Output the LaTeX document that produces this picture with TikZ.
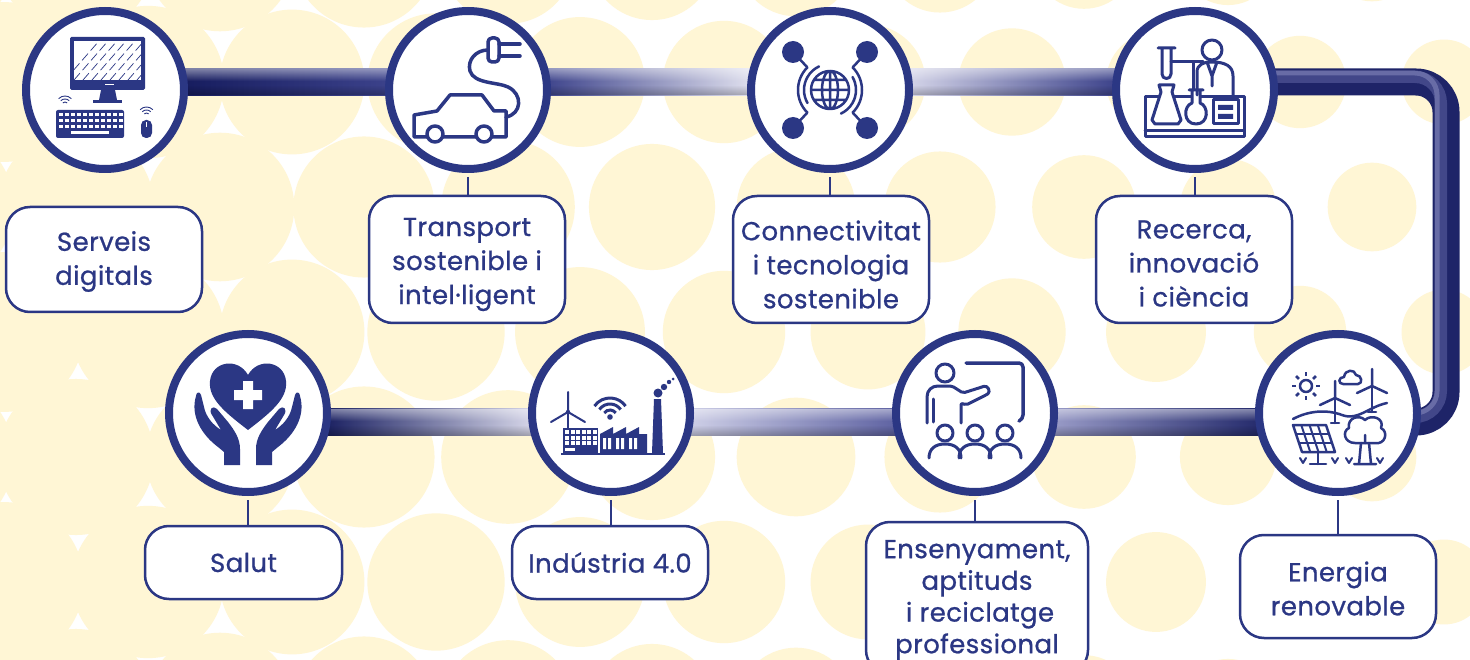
\documentclass[tikz,border=0pt]{standalone}
\usepackage{fontspec}
\setmainfont{Poppins}
\newfontfamily\tagfont{Poppins}[FakeBold=0.8, LetterSpace=1.5]
\usetikzlibrary{fadings,calc}
\definecolor{navy}{HTML}{2B3784}
\definecolor{cream}{HTML}{FFF6D5}
\definecolor{pipedark}{HTML}{1E2468}
\definecolor{pipemid}{HTML}{5A5F9F}
\definecolor{pipelight}{HTML}{8E91C4}
\begin{document}
\begin{tikzpicture}[x=1pt, y=-1pt,
    ring/.style={circle, draw=navy, line width=8pt, fill=white, minimum size=158pt, inner sep=0pt},
    tag/.style={draw=navy, line width=2.5pt, fill=white, rounded corners=24pt, inner sep=0pt, minimum width=196pt},
    words/.style={align=center, text=navy, inner sep=0pt, font=\tagfont\fontsize{26pt}{34pt}\selectfont},
    link/.style={draw=navy, line width=2.5pt},
    ico/.style={draw=navy, line width=3.5pt, line join=round, line cap=round}]
\useasboundingbox (0,0) rectangle (1470,660);
% dotted background
\begin{scope}
  \clip (0,0) rectangle (1470,660);
  \fill[white] (0,0) rectangle (1470,660);
  \foreach \r in {0,...,6}
    \foreach \c in {-1,...,11}{
      \pgfmathsetmacro{\cx}{4+144*\c+72*mod(\r+1,2)}
      \pgfmathsetmacro{\cy}{-43+125*\r}
      \pgfmathsetmacro{\rr}{80-0.026*\cx}
      \fill[cream] (\cx,\cy) circle (\rr);
    }
\end{scope}
% pipe
\draw[pipedark, line width=27pt, rounded corners=30pt] (1270,82) -- (1446,82) -- (1446,422) -- (1330,422);
\draw[pipemid, opacity=.6, line width=12pt, rounded corners=26pt] (1270,77) -- (1441,77) -- (1441,417) -- (1330,417);
\draw[pipelight, opacity=.5, line width=5pt, rounded corners=22pt] (1270,73) -- (1437,73) -- (1437,413) -- (1330,413);
\foreach \xa/\xb/\yy/\ca/\cm/\cb in {
    180/395/82/161C5E/272D75/3D438C,
    540/760/82/3A4089/5A5F9F/E6E6F2,
    900/1120/82/DADAEC/5C61A0/3A4089,
    1050/1265/422/9A9CC8/4A4F92/22286A,
    685/900/422/D0D1E8/E8E8F3/5D61A1,
    320/535/422/161C5E/3D438C/D8D8EA}{
  \definecolor{pa}{HTML}{\ca}
  \definecolor{pm}{HTML}{\cm}
  \definecolor{pb}{HTML}{\cb}
  \shade[left color=pa, middle color=pm, right color=pb] (\xa,\yy-13.5) rectangle (\xb,\yy+13.5);
  \fill[white, path fading=south, fill opacity=.45] (\xa,\yy-13.5) rectangle (\xb,\yy-1);
  \fill[black, path fading=north, fill opacity=.25] (\xa,\yy+3) rectangle (\xb,\yy+13.5);
}
% rings
\foreach \i/\x/\y in {1/105/90, 2/468/90, 3/830/90, 4/1195/90, 5/248/413, 6/611/413, 7/975/413, 8/1338/413}
  \node[ring] (n\i) at (\x,\y) {};
% labels
\foreach \i/\x/\y/\w/\h/\dy/\txt in {
    1/104/259.5/196/105/-2/{Serveis\\digitals},
    2/467/259.5/196/127/-5/{Transport\\sostenible i\\intel·ligent},
    3/831/259.5/196/127/-5/{Connectivitat\\i tecnologia\\sostenible},
    4/1194/259.5/196/127/-4/{Recerca,\\innovació\\i ciència},
    5/243.5/562.5/197/73/0/{Salut},
    6/610/562.5/196/73/0/{Indústria 4.0},
    8/1338/586.5/196/103/-2/{Energia\\renovable}}{
  \node[tag, minimum width=\w, minimum height=\h] (t\i) at (\x,\y) {};
  \node[words] (w\i) at ([yshift=\dy]t\i.center) {\txt};
}
\node[tag, minimum width=222pt, minimum height=152pt] (t7) at (977,598) {};
\node[words, font=\tagfont\fontsize{26pt}{31.7pt}\selectfont] (w7) at ([yshift=-2pt]t7.center)
  {Ensenyament,\\aptituds\\\hspace*{6pt}i reciclatge\\professional};
\foreach \i in {2,...,8}
  \draw[link] (n\i.south) ++(0,4) -- (n\i.south |- t\i.north);
% computer
\begin{scope}[shift={(n1)}]
  \fill[navy, rounded corners=1.5pt] (-35,-53) rectangle (40,0);
  \fill[white] (-31,-49) rectangle (36,-10);
  \begin{scope}
    \clip (-31,-49) rectangle (36,-10);
    \foreach \k in {-40,-31,...,50}
      \draw[navy, line width=.7pt, dash pattern=on 9pt off 4pt] (\k,-10) -- (\k+34,-49);
  \end{scope}
  \fill[white] (0,-6) rectangle (9,-4.5);
  \fill[navy] (-4,0) -- (10,0) -- (12,10) -- (-6,10) -- cycle;
  \fill[navy] (-12,10) rectangle (17,13);
  \fill[navy, rounded corners=2pt] (-49,20) rectangle (19,48);
  \foreach \i in {0,...,10}
    \foreach \j in {0,1,2}
      \fill[white] (-46+\i*6,23+\j*6) rectangle ++(3.5,3);
  \fill[white] (-34,41) rectangle (4,44.5);
  \fill[navy, rounded corners=5pt] (36,30) rectangle (47,48);
  \draw[white, line width=1pt] (41.5,32) -- (41.5,37);
  \foreach \w in {3,6,9}{
    \draw[navy, line width=.9pt] (-40,15) ++(225:\w) arc (225:315:\w);
    \draw[navy, line width=.9pt] (41.5,26) ++(225:\w) arc (225:315:\w);
  }
\end{scope}
% car and plug
\begin{scope}[shift={(n2)}]
  \draw[ico] (-54,47) -- (-54,25) -- (-31,21) -- (-18,5) -- (14,5) -- (26,21) -- (38,21) -- (38,47) -- cycle;
  \draw[ico, fill=white] (-33,44) circle (8) (16,44) circle (8);
  \draw[ico] (38,27) .. controls (54,24) and (55,4) .. (40,-3) .. controls (30,-8) and (6,-6) .. (2,-19)
    .. controls (-1,-30) and (8,-40) .. (20,-40);
  \draw[ico, rounded corners=4pt] (31,-52) -- (20,-52) -- (20,-28) -- (31,-28) -- cycle;
  \draw[ico] (31,-46) -- (52,-46) (31,-34) -- (52,-34);
\end{scope}
% network globe
\begin{scope}[shift={(n3)}]
  \foreach \sx in {-1,1}
    \foreach \sy in {-1,1}{
      \fill[navy] (\sx*37,\sy*38) circle (11);
      \draw[ico, line width=2.5pt] (\sx*37,\sy*38) -- (\sx*23,\sy*23);
    }
  \draw[ico, line width=2.5pt] (135:32) arc (135:225:32) (-45:32) arc (-45:45:32);
  \draw[ico, line width=2.5pt] (150:26) arc (150:245:26) (-30:26) arc (-30:65:26);
  \draw[ico, line width=2.5pt] (0,0) circle (19) (0,0) ellipse (8 and 19) (0,-19) -- (0,19)
    (-19,0) -- (19,0) (-16,-10) -- (16,-10) (-16,10) -- (16,10);
\end{scope}
% lab
\begin{scope}[shift={(n4)}]
  \draw[ico, line width=3pt] (-50,7) rectangle (49,47) (-50,41) -- (49,41);
  \draw[ico, line width=3pt] (-33,-42) -- (-33,-16) .. controls (-33,-10) and (-24,-10) .. (-24,-16) -- (-24,-42)
    (-37,-42) -- (-20,-42);
  \draw[ico, line width=3pt] (-24,-28) -- (8,-28) (-2,-28) -- (-2,0);
  \draw[ico, line width=3pt, fill=white] (-36,-5) -- (-21,-5) -- (-23,2) -- (-14,30) -- (-17,34) -- (-40,34)
    -- (-43,30) -- (-34,2) -- cycle;
  \draw[ico, line width=3pt, fill=white] (-3,0) -- (-3,13) .. controls (-12,16) and (-12,34) .. (1,34)
    .. controls (14,34) and (14,16) .. (5,13) -- (5,0) (-6,0) -- (8,0);
  \draw[ico, line width=3pt] (18,10) rectangle (43,34);
  \fill[navy] (23,15) rectangle (38,20) (23,24) rectangle (38,29);
  \draw[ico, line width=3pt] (17,-40) circle (10);
  \draw[ico, line width=3pt] (2,5) -- (2,-18) .. controls (2,-25) and (8,-28) .. (17,-28)
    .. controls (30,-28) and (38,-24) .. (38,-14) -- (38,5) (12,-28) -- (17,-14) -- (22,-28) (17,-14) -- (17,-4);
\end{scope}
% heart in hands
\begin{scope}[shift={(n5)}]
  \fill[navy] (0,17) .. controls (-22,0) and (-40,-14) .. (-38,-32) .. controls (-36,-52) and (-10,-56) .. (0,-38)
    .. controls (10,-56) and (36,-52) .. (38,-32) .. controls (40,-14) and (22,0) .. (0,17) -- cycle;
  \fill[white] (-5,-32) rectangle (5,-4) (-14,-23) rectangle (14,-13);
  \foreach \s in {1,-1}
    \fill[navy, xscale=\s] (-52,-17) .. controls (-58,3) and (-46,22) .. (-30,34) -- (-24,39) -- (-24,52)
      -- (-8,52) -- (-8,36) .. controls (-8,26) and (-13,18) .. (-20,9) -- (-31,-4)
      .. controls (-35,-8) and (-40,-4) .. (-36,2) -- (-27,17) .. controls (-35,12) and (-42,4) .. (-44,-6)
      -- (-47,-18) .. controls (-48,-22) and (-52,-21) .. (-52,-17) -- cycle;
\end{scope}
% factory
\begin{scope}[shift={(n6)}]
  \draw[navy, line width=1.5pt] (-43,-1) -- (-43,15);
  \draw[navy, line width=2pt, line cap=round] (-43,-1) -- (-43,-21) (-43,-1) -- (-60,9) (-43,-1) -- (-26,9);
  \fill[navy] (-43,-1) circle (2.2);
  \fill[navy] (-48,15) rectangle (-13,40);
  \foreach \i in {0,...,5}
    \foreach \j in {0,1,2}
      \fill[white] (-46+\i*5.5,17+\j*5.5) rectangle ++(4,4);
  \fill[white] (-46,35) rectangle (-36,38);
  \fill[navy] (-11,40) -- (-11,21) -- (2,14) -- (2,21) -- (15,14) -- (15,21) -- (28,14) -- (28,21) -- (36,21)
    -- (36,40) -- cycle;
  \foreach \wx in {-8,5,18}
    \fill[white] (\wx,25) rectangle ++(3,11) (\wx+5,25) rectangle ++(3,11);
  \fill[navy] (41,40) -- (43,-14) -- (50,-14) -- (52,40) -- cycle;
  \fill[navy] (47,-20) circle (4.5) (53,-26) circle (3.2) (58,-31) circle (2.2) (62,-34) circle (1.5);
  \draw[navy, line width=2pt] (-50,41) -- (54,41);
  \fill[navy] (-1,4) circle (2.8);
  \foreach \w in {7,13,19}
    \draw[navy, line width=3pt] (-1,4) ++(215:\w) arc (215:325:\w);
\end{scope}
% teacher
\begin{scope}[shift={(n7)}]
  \draw[ico, rounded corners=4pt] (-9,-50) -- (48,-50) -- (48,6) -- (44,8);
  \draw[ico, line width=3pt] (-30,-40) circle (9);
  \draw[ico, line width=3pt, rounded corners=2pt] (-48,10) -- (-48,-14) .. controls (-48,-23) and (-43,-27) .. (-35,-27)
    -- (-23,-27) -- (-12,-20) -- (7,-26) .. controls (13,-28) and (16,-21) .. (11,-18) -- (-9,-8) -- (-14,-10) -- (-14,10);
  \draw[ico, line width=3pt] (-42,-14) -- (-42,9);
  \foreach \p in {-30,0,30}{
    \draw[ico, line width=3pt] (\p,20) circle (8);
    \draw[ico, line width=3pt] (\p-16,45) .. controls (\p-16,36) and (\p-10,31) .. (\p,31)
      .. controls (\p+10,31) and (\p+16,36) .. (\p+16,45);
  }
\end{scope}
% renewable energy
\begin{scope}[shift={(n8)}]
  \draw[ico, line width=2.5pt] (-32,-27) circle (6);
  \foreach \a in {0,45,...,315}
    \draw[navy, line width=2.5pt] (-32,-27) ++(\a:10) -- ++(\a:4);
  \draw[ico, line width=2.5pt] (5,-29) .. controls (0,-29) and (0,-36) .. (6,-36) .. controls (7,-44) and (17,-44) .. (18,-38)
    .. controls (24,-38) and (25,-29) .. (20,-29) -- cycle;
  \draw[ico, line width=2.5pt] (-45,6) .. controls (-30,-2) and (-12,-4) .. (4,2) .. controls (20,8) and (30,-6) .. (49,-10);
  \foreach \hx/\hy/\hb in {-3/-15/10, 34/-27/-1}{
    \draw[ico, line width=2.5pt] (\hx,\hy) -- (\hx,\hb) (\hx-4,\hb) -- (\hx+4,\hb);
    \draw[ico, line width=2.5pt] (\hx,\hy) -- ++(0,-17) (\hx,\hy) -- ++(-15,7) (\hx,\hy) -- ++(15,7);
  }
  \draw[navy, line width=2.5pt, line join=round, fill=white] (-45,12) -- (-12,12) -- (-3,39) -- (-36,39) -- cycle;
  \foreach \t in {.25,.5,.75}
    \draw[navy, line width=2pt] ($(-45,12)!\t!(-12,12)$) -- ($(-36,39)!\t!(-3,39)$);
  \foreach \t in {.33,.66}
    \draw[navy, line width=2pt] ($(-45,12)!\t!(-36,39)$) -- ($(-12,12)!\t!(-3,39)$);
  \draw[ico, line width=2.5pt] (-20,39) -- (-20,51) (-28,51) -- (-12,51);
  \draw[ico, line width=2.5pt, fill=white] (17,30) .. controls (6,30) and (4,18) .. (11,15) .. controls (9,5) and (21,1) .. (27,7)
    .. controls (33,1) and (47,5) .. (43,15) .. controls (51,19) and (47,32) .. (37,30) -- cycle;
  \draw[ico, line width=2.5pt] (23,30) -- (21,51) (31,30) -- (33,51) (16,51) -- (38,51) (27,30) -- (27,22);
  \foreach \gx in {-35,-3,11,42}
    \draw[navy, line width=2pt, line cap=round, line join=round] (\gx-3,45) -- (\gx,50) -- (\gx+3,45);
\end{scope}
\end{tikzpicture}
\end{document}
